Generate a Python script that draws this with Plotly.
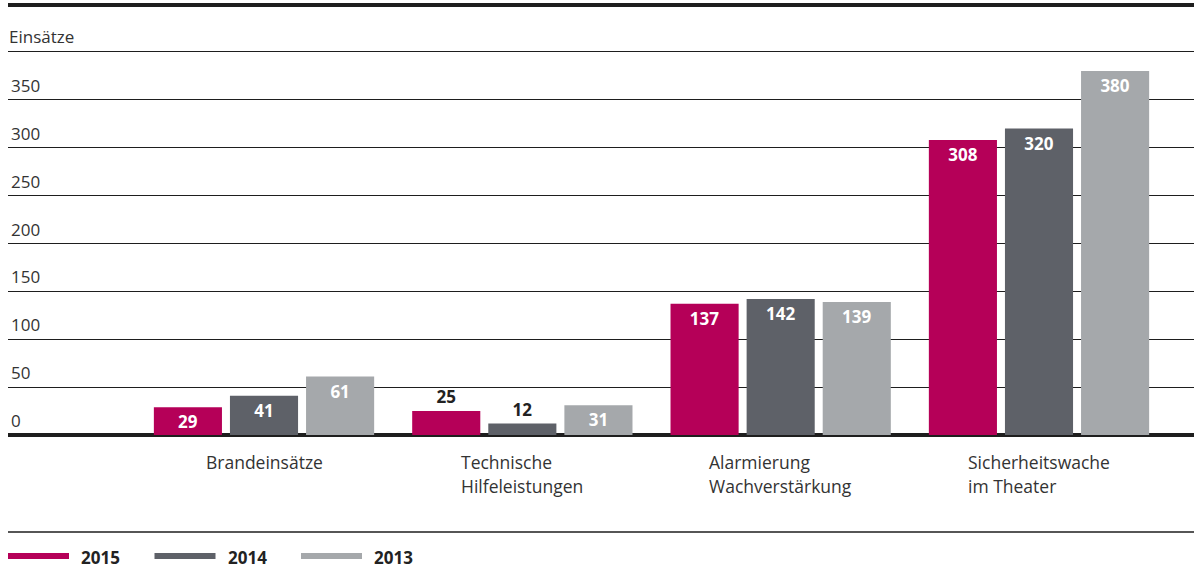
import plotly.graph_objects as go

# ---- data ----
categories = ["Brandeinsätze", "Technische<br>Hilfeleistungen",
              "Alarmierung<br>Wachverstärkung", "Sicherheitswache<br>im Theater"]
series_names = ["2015", "2014", "2013"]
values_2015 = [29, 25, 137, 308]
values_2014 = [41, 12, 142, 320]
values_2013 = [61, 31, 139, 380]
y_tick_values = [0, 50, 100, 150, 200, 250, 300, 350, 400]
y_tick_labels = ["0", "50", "100", "150", "200", "250", "300", "350", ""]
y_axis_title = "Einsätze"

series_values = [values_2015, values_2014, values_2013]
colors = ["#B50058", "#5E6168", "#A5A8AB"]

W, H = 1194, 576
ML, MR, MT, MB = 8, 0, 50, 141
PW, PH = W - ML - MR, H - MT - MB
FONT = "Open Sans"
TXT = "#333333"
LINE = "#1e1e1e"


def px_x(px):
    return (px - ML) / PW


def px_y(py):
    return (H - MB - py) / PH


fig = go.Figure()
for name, vals, col in zip(series_names, series_values, colors):
    pos = ["outside" if v < 27 else "inside" for v in vals]
    fig.add_trace(go.Bar(
        x=categories, y=vals, name=name,
        marker=dict(color=col, line=dict(width=0)),
        text=[str(v) for v in vals], textposition=pos,
        insidetextanchor="end", textangle=0, constraintext="none",
        insidetextfont=dict(family=FONT, size=17, color="white", weight="bold"),
        outsidetextfont=dict(family=FONT, size=17, color="#222222", weight="bold"),
        cliponaxis=False, showlegend=False,
    ))

shapes = []
annotations = []
# top heavy rule and bottom thin rule
shapes.append(dict(type="line", xref="paper", yref="paper", x0=0, x1=1,
                   y0=px_y(5), y1=px_y(5), line=dict(color=LINE, width=4)))
shapes.append(dict(type="line", xref="paper", yref="paper", x0=0, x1=1,
                   y0=px_y(532), y1=px_y(532), line=dict(color=LINE, width=1.3)))

# axis title sitting on the top gridline, like the tick labels
annotations.append(dict(x=0, xref="paper", y=y_tick_values[-1], yref="y",
                        xanchor="left", yanchor="bottom", showarrow=False,
                        text=y_axis_title, xshift=-1, yshift=2,
                        font=dict(family=FONT, size=17, color=TXT)))

# category labels (left-aligned lines, block centred under group)
for c in categories:
    lines = c.split("<br>")
    txt = "<br>".join(f'<span style="font-size:17.5px">{l}</span>' for l in lines)
    annotations.append(dict(x=c, xref="x", y=0, yref="paper", yanchor="top",
                            xanchor="center", align="left", showarrow=False,
                            text=txt, yshift=-13,
                            font=dict(family=FONT, size=18.5, color=TXT)))

# legend drawn as line + bold label
for i, (name, col) in enumerate(zip(series_names, colors)):
    x0 = 8 + i * 146.5
    shapes.append(dict(type="line", xref="paper", yref="paper",
                       x0=px_x(x0), x1=px_x(x0 + 61), y0=px_y(556), y1=px_y(556),
                       line=dict(color=col, width=6)))
    annotations.append(dict(x=px_x(x0 + 71), y=px_y(557), xref="paper", yref="paper",
                            xanchor="left", yanchor="middle", showarrow=False,
                            text=f"<b>{name}</b>",
                            font=dict(family=FONT, size=17, color="#222222")))

fig.update_layout(
    width=W, height=H,
    margin=dict(l=ML, r=MR, t=MT, b=MB, pad=0),
    paper_bgcolor="white", plot_bgcolor="white",
    barmode="group", bargap=0.1163, bargroupgap=0.105,
    font=dict(family=FONT, size=17, color=TXT),
    shapes=shapes, annotations=annotations,
    xaxis=dict(type="category", range=[-0.991, 3.600], showticklabels=False,
               showgrid=False, zeroline=False, showline=False, ticks="", fixedrange=True),
    yaxis=dict(range=[0, 402], tickvals=y_tick_values, ticktext=y_tick_labels,
               ticklabelposition="inside top", ticklabelshift=-2, ticks="", showline=False,
               showgrid=True, gridcolor=LINE, gridwidth=1.2,
               zeroline=True, zerolinecolor=LINE, zerolinewidth=3.5,
               tickfont=dict(family=FONT, size=17, color=TXT), fixedrange=True),
)

fig.write_html("out.html")
